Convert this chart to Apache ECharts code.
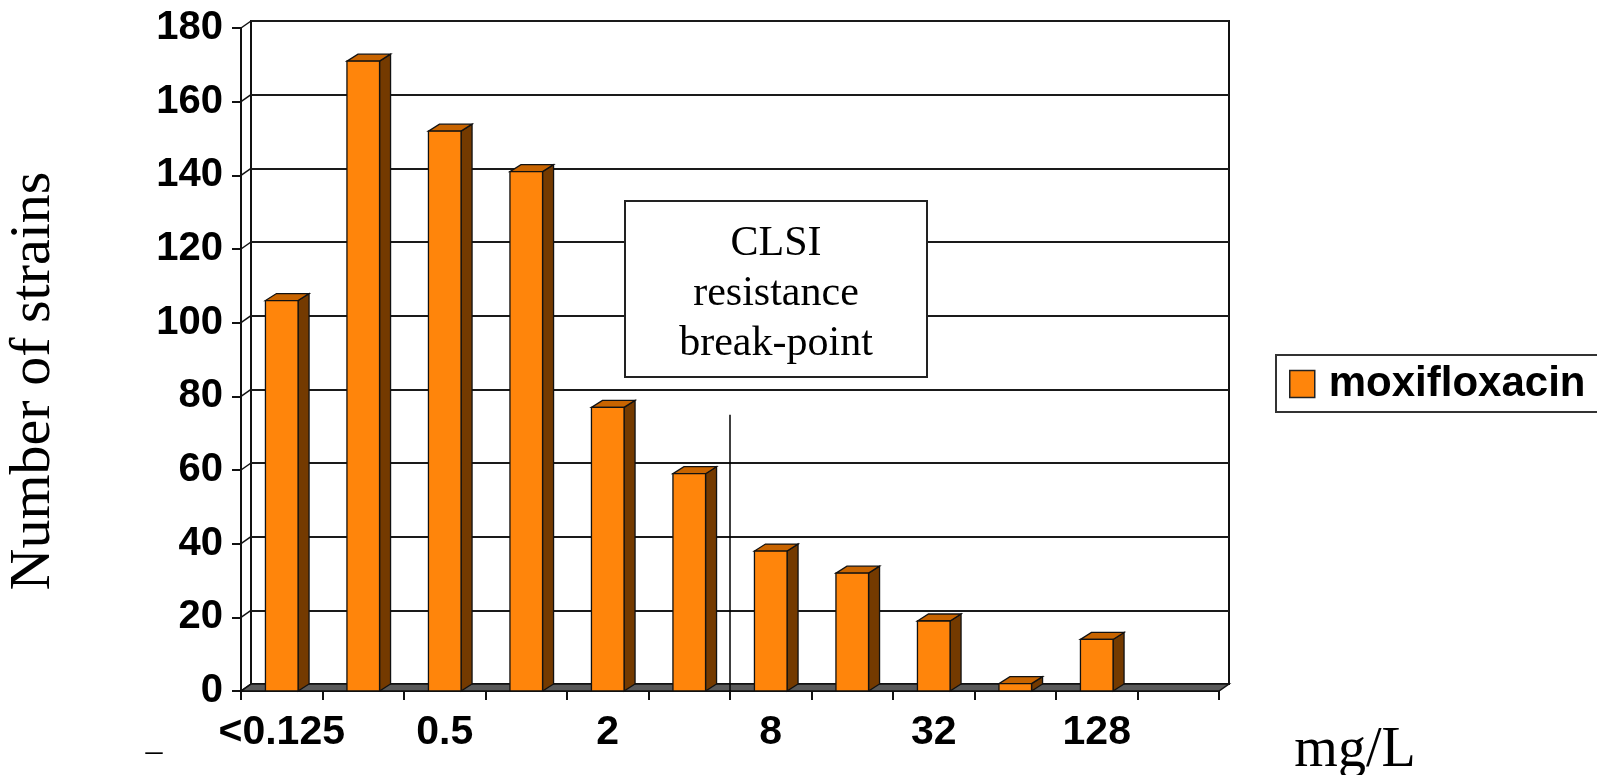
<!DOCTYPE html>
<html><head><meta charset="utf-8">
<script src="https://cdn.jsdelivr.net/npm/echarts@6.0.0/dist/echarts.min.js"></script>
<style>html,body{margin:0;padding:0;background:#fff}#main{width:1597px;height:775px}</style>
</head><body><div id="main"></div>
<script>
// ---- data ----
const categories = ['<0.125', '0.25', '0.5', '1', '2', '4', '8', '16', '32', '64', '128', '256'];
const moxifloxacin = [106, 171, 152, 141, 77, 59, 38, 32, 19, 2, 14, null];
const seriesName = 'moxifloxacin';
const yMin = 0, yMax = 180, yStep = 20;
const breakpointAfterIndex = 5;   // line drawn between "4" and "8"
const breakpointTop = 75;
const boxLines = ['CLSI', 'resistance', 'break-point'];
const yAxisTitle = 'Number of strains';
const xAxisUnit = 'mg/L';

// ---- style ----
const FRONT = '#FF850B', TOP = '#C86400', SIDE = '#743A00', EDGE = '#111';
const DX = 10, DY = -7;      // wall depth offset
const BDX = 11, BDY = -7;    // bar depth offset
const yTicks = [];
for (let v = yMin; v <= yMax; v += yStep) yTicks.push(v);

const chart = echarts.init(document.getElementById('main'), null, {renderer: 'canvas'});

function renderFrame(params, api) {
  const bw = api.size([1, 0])[0];
  const left = api.coord([0, 0])[0] - bw / 2;
  const right = api.coord([categories.length - 1, 0])[0] + bw / 2;
  const y0 = api.coord([0, 0])[1];
  const children = [{
    type: 'polygon',
    shape: {points: [[left, y0], [right, y0], [right + DX, y0 + DY], [left + DX, y0 + DY]]},
    style: {fill: '#5a5a5a', stroke: EDGE, lineWidth: 1.5}
  }];
  yTicks.forEach(v => {
    const y = api.coord([0, v])[1];
    children.push({type: 'line', shape: {x1: left, y1: y, x2: left + DX, y2: y + DY},
      style: {stroke: '#111', lineWidth: 1.5}});
  });
  return {type: 'group', children};
}

function renderBar(params, api) {
  const i = api.value(0), v = api.value(1);
  const top = api.coord([i, v]);
  const base = api.coord([i, 0]);
  const bw = api.size([1, 0])[0];
  const w = bw * 0.4;
  const x0 = top[0] - w / 2, x1 = top[0] + w / 2;
  const yt = top[1], yb = base[1];
  const st = {stroke: EDGE, lineWidth: 1.3};
  return {type: 'group', children: [
    {type: 'polygon', shape: {points: [[x1, yt], [x1 + BDX, yt + BDY], [x1 + BDX, yb + BDY], [x1, yb]]},
      style: Object.assign({fill: SIDE}, st)},
    {type: 'polygon', shape: {points: [[x0, yt], [x1, yt], [x1 + BDX, yt + BDY], [x0 + BDX, yt + BDY]]},
      style: Object.assign({fill: TOP}, st)},
    {type: 'rect', shape: {x: x0, y: yt, width: w, height: yb - yt},
      style: Object.assign({fill: FRONT}, st)}
  ]};
}

function renderBreak(params, api) {
  const i = api.value(0), v = api.value(1);
  const c = api.coord([i, v]);
  const base = api.coord([i, 0]);
  const bw = api.size([1, 0])[0];
  const x = c[0] + bw / 2;
  return {type: 'line', shape: {x1: x, y1: c[1], x2: x, y2: base[1]},
    style: {stroke: '#000', lineWidth: 1.5}};
}

const option = {
  backgroundColor: '#fff',
  animation: false,
  grid: [
    {left: 241, top: 28, width: 978, height: 663},
    {left: 241 + DX, top: 28 + DY, width: 978, height: 663, show: true,
      borderColor: '#111', borderWidth: 2, backgroundColor: 'transparent'}
  ],
  xAxis: [
    {type: 'category', gridIndex: 0, data: categories, boundaryGap: true,
      axisLine: {show: true, lineStyle: {color: '#111', width: 2}},
      axisTick: {show: true, interval: 0, length: 9, lineStyle: {color: '#111', width: 2}},
      axisLabel: {interval: 1, margin: 21, color: '#000', fontFamily: 'Liberation Sans',
        fontWeight: 'bold', fontSize: 41}},
    {type: 'category', gridIndex: 1, data: categories, show: false}
  ],
  yAxis: [
    {type: 'value', gridIndex: 0, min: yMin, max: yMax, interval: yStep,
      axisLine: {show: true, lineStyle: {color: '#111', width: 2}},
      axisTick: {show: true, length: 9, lineStyle: {color: '#111', width: 2}},
      splitLine: {show: false},
      axisLabel: {margin: 18, color: '#000', fontFamily: 'Liberation Sans',
        fontWeight: 'bold', fontSize: 40}},
    {type: 'value', gridIndex: 1, min: yMin, max: yMax, interval: yStep,
      axisLine: {show: false}, axisTick: {show: false}, axisLabel: {show: false},
      splitLine: {show: true, lineStyle: {color: '#1a1a1a', width: 2}}}
  ],
  legend: {
    left: 1276, top: 355, orient: 'horizontal', selectedMode: false,
    itemWidth: 25, itemHeight: 27,
    padding: [8, 40, 7, 13],
    borderColor: '#333', borderWidth: 2, backgroundColor: '#fff',
    data: [{name: seriesName, icon: 'rect',
      itemStyle: {color: FRONT, borderColor: '#222', borderWidth: 1.5}}],
    textStyle: {fontFamily: 'Liberation Sans', fontWeight: 'bold', fontSize: 42,
      color: '#000', padding: [0, 0, 0, 9]}
  },
  series: [
    {type: 'custom', name: 'frame', xAxisIndex: 0, yAxisIndex: 0, z: 1, silent: true,
      data: [[0, 0]], renderItem: renderFrame},
    {type: 'custom', name: seriesName, xAxisIndex: 0, yAxisIndex: 0, z: 3,
      itemStyle: {color: FRONT},
      data: moxifloxacin.map((v, i) => [i, v]).filter(d => d[1] != null),
      encode: {x: 0, y: 1}, renderItem: renderBar},
    {type: 'custom', name: 'breakpoint', xAxisIndex: 0, yAxisIndex: 0, z: 4, silent: true,
      data: [[breakpointAfterIndex, breakpointTop]], renderItem: renderBreak}
  ],
  graphic: [
    {type: 'rect', z: 10, shape: {x: 625, y: 201, width: 302, height: 176},
      style: {fill: '#fff', stroke: '#222', lineWidth: 2}},
    {type: 'text', z: 11, x: 776, y: 294,
      style: {text: boxLines.join('\n'), align: 'center', verticalAlign: 'middle',
        font: '42px "Liberation Serif"', lineHeight: 50, fill: '#000'}},
    {type: 'text', z: 11, x: 34, y: 381, rotation: Math.PI / 2,
      style: {text: yAxisTitle, align: 'center', verticalAlign: 'middle',
        font: '58px "Liberation Serif"', fill: '#000'}},
    {type: 'text', z: 11, x: 1355, y: 751,
      style: {text: xAxisUnit, align: 'center', verticalAlign: 'middle',
        font: '56px "Liberation Serif"', fill: '#000'}},
    {type: 'text', z: 11, x: 154, y: 752,
      style: {text: '\u2013', align: 'center', verticalAlign: 'middle',
        font: '34px "Liberation Serif"', fill: '#000'}}
  ]
};
chart.setOption(option);
</script>
</body></html>
